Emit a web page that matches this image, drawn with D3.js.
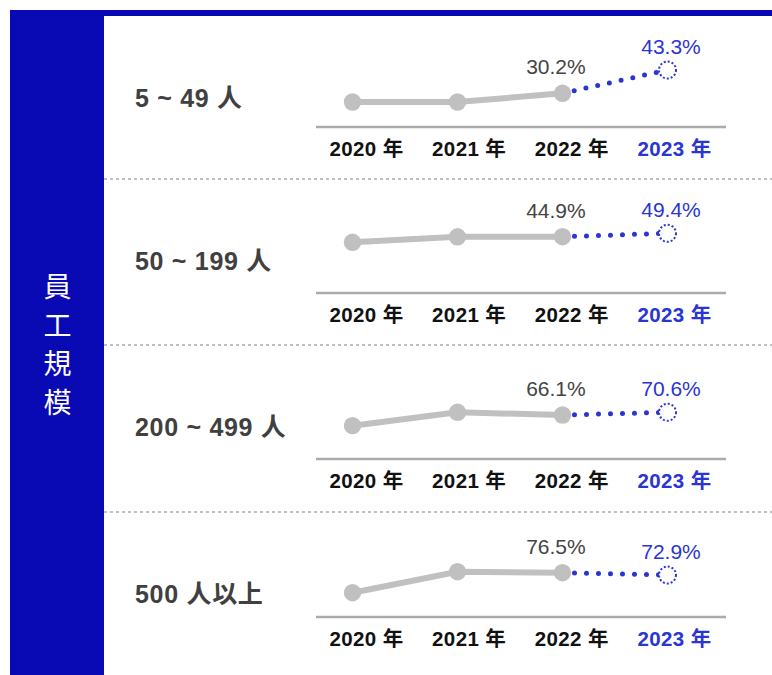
<!DOCTYPE html>
<html>
<head>
<meta charset="utf-8">
<script src="https://cdn.jsdelivr.net/npm/d3@7"></script>
<style>
	body { margin: 0; background: #fff; }
	svg { display: block; font-family: "Liberation Sans", Arial, "Noto Sans CJK TC", sans-serif; }
</style>
</head>
<body>
<svg></svg>
<script>
// data
var groups = ["5 ~ 49 人", "50 ~ 199 人", "200 ~ 499 人", "500 人以上"];
var years = ["2020 年", "2021 年", "2022 年", "2023 年"];
var values2020 = [25.3, 37.5, 48.3, 45.2];
var values2021 = [25.3, 44.8, 70.6, 78.1];
var values2022 = [30.2, 44.9, 66.1, 76.5];
var values2023 = [43.3, 49.4, 70.6, 72.9];
var sideTitle = ["員", "工", "規", "模"];
// each panel has its own vertical scale in the source picture
var panelDomains = [[25.3, 45.0], [3.5, 49.8], [34.4, 92.8], [46.3, 101.1]];

var width = 772,
	height = 675;

var blue = "#0a0ab4",
	lightBlue = "#2a35d2",
	gray = "#c0c0c0";

// layout
var panelTops = [16, 179, 345, 512],
	axisYs = [127, 293, 459, 617];

var svg = d3
	.select("svg")
	.attr("width", width)
	.attr("height", height);

// frame
svg
	.append("rect")
	.attr("x", 10)
	.attr("y", 10)
	.attr("width", width - 10)
	.attr("height", 6)
	.attr("fill", blue);

svg
	.append("rect")
	.attr("x", 10)
	.attr("y", 10)
	.attr("width", 94)
	.attr("height", height - 10)
	.attr("fill", blue);

svg
	.selectAll(".side-title")
	.data(sideTitle)
	.enter()
	.append("text")
	.attr("class", "side-title")
	.attr("x", 57.5)
	.attr("y", (d, i) => 297 + i * 38.7)
	.attr("text-anchor", "middle")
	.attr("font-size", 28)
	.attr("fill", "#fff")
	.text(d => d);

// dotted separators
svg
	.selectAll(".sep")
	.data(panelTops.slice(1))
	.enter()
	.append("line")
	.attr("class", "sep")
	.attr("x1", 104)
	.attr("x2", width)
	.attr("y1", d => d)
	.attr("y2", d => d)
	.attr("stroke", gray)
	.attr("stroke-width", 2)
	.attr("stroke-dasharray", "3,3");

var xScale = d3
	.scalePoint()
	.domain(years)
	.range([352.5, 667.5]);

var xLabel = d3
	.scalePoint()
	.domain(years)
	.range([366.5, 674.5]);

var line = d3.line();

groups.forEach(function(g, i) {
	var vals = [values2020[i], values2021[i], values2022[i], values2023[i]];
	var axisY = axisYs[i];
	var yScale = d3
		.scaleLinear()
		.domain(panelDomains[i])
		.range([axisY - 25, axisY - 60]);

	var pts = vals.map(function(v, j) {
		return [xScale(years[j]), yScale(v)];
	});

	var panel = svg.append("g").attr("class", "panel");

	panel
		.append("text")
		.attr("x", 135)
		.attr("y", panelTops[i] + 91)
		.attr("font-size", 25)
		.attr("font-weight", "bold")
		.attr("letter-spacing", 0.7)
		.attr("fill", "#404040")
		.text(g);

	// axis baseline
	panel
		.append("line")
		.attr("x1", 316)
		.attr("x2", 726)
		.attr("y1", axisY)
		.attr("y2", axisY)
		.attr("stroke", "#ababab")
		.attr("stroke-width", 2.5);

	panel
		.selectAll(".year")
		.data(years)
		.enter()
		.append("text")
		.attr("class", "year")
		.attr("x", d => xLabel(d))
		.attr("y", axisY + 28.5)
		.attr("text-anchor", "middle")
		.attr("font-size", 20.5)
		.attr("font-weight", "bold")
		.attr("letter-spacing", 0.4)
		.attr("fill", (d, j) => (j === 3 ? lightBlue : "#111"))
		.text(d => d);

	// forecast segment
	panel
		.append("path")
		.attr("d", line(pts.slice(2)))
		.attr("fill", "none")
		.attr("stroke", lightBlue)
		.attr("stroke-width", 5)
		.attr("stroke-linecap", "round")
		.attr("stroke-dasharray", "0,12");

	panel
		.append("path")
		.attr("d", line(pts.slice(0, 3)))
		.attr("fill", "none")
		.attr("stroke", gray)
		.attr("stroke-width", 6);

	panel
		.selectAll(".pt")
		.data(pts.slice(0, 3))
		.enter()
		.append("circle")
		.attr("class", "pt")
		.attr("cx", d => d[0])
		.attr("cy", d => d[1])
		.attr("r", 8.7)
		.attr("fill", gray);

	panel
		.append("circle")
		.attr("cx", pts[3][0])
		.attr("cy", pts[3][1])
		.attr("r", 8.5)
		.attr("fill", "#fff")
		.attr("stroke", lightBlue)
		.attr("stroke-width", 2)
		.attr("stroke-dasharray", "2,2");

	panel
		.append("text")
		.attr("x", pts[2][0] - 6.6)
		.attr("y", pts[2][1] - 19)
		.attr("text-anchor", "middle")
		.attr("font-size", 21)
		.attr("fill", "#444")
		.text(vals[2].toFixed(1) + "%");

	panel
		.append("text")
		.attr("x", pts[3][0] + 3.5)
		.attr("y", pts[3][1] - 16)
		.attr("text-anchor", "middle")
		.attr("font-size", 21)
		.attr("fill", lightBlue)
		.text(vals[3].toFixed(1) + "%");
});
</script>
</body>
</html>
